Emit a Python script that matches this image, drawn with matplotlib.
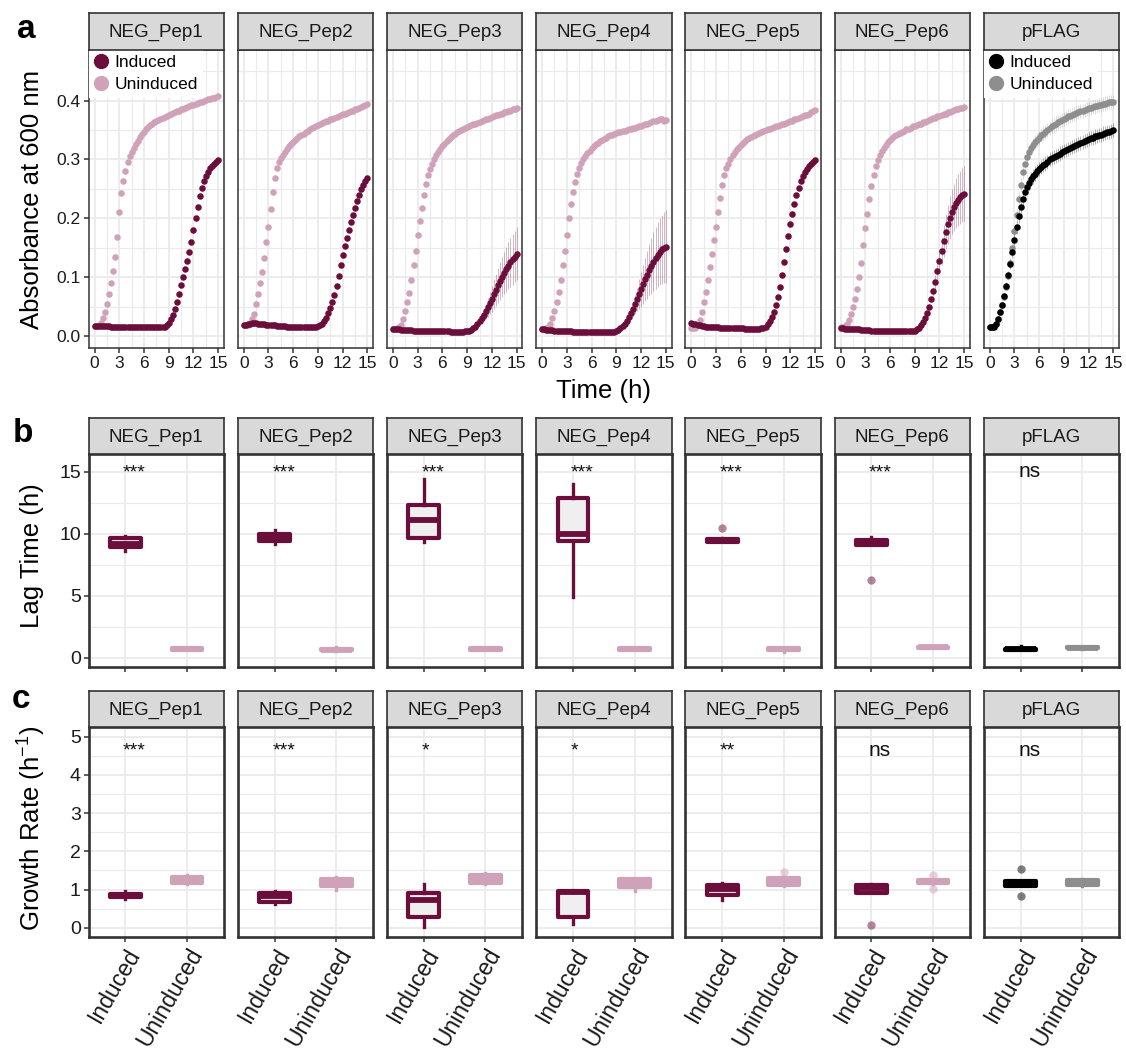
import numpy as np
import matplotlib
matplotlib.use('Agg')
import matplotlib.pyplot as plt
from matplotlib.lines import Line2D
from matplotlib.ticker import MultipleLocator, FormatStrFormatter

plt.rcParams['font.family'] = ['Liberation Sans', 'DejaVu Sans']
plt.rcParams['mathtext.default'] = 'regular'

W, H = 1126, 1054

strains = ['NEG_Pep1', 'NEG_Pep2', 'NEG_Pep3', 'NEG_Pep4', 'NEG_Pep5', 'NEG_Pep6', 'pFLAG']
groups = ['Induced', 'Uninduced']

# OD600 read-outs, one every 15 min from 0 to 15 h
time_h = np.arange(0, 15.01, 0.25)

pep1_uni = [0.017, 0.017, 0.018, 0.022, 0.030, 0.041, 0.055, 0.071, 0.090, 0.110, 0.135, 0.168, 0.210,
            0.243, 0.263, 0.280, 0.295, 0.305, 0.312, 0.319, 0.326, 0.332, 0.338, 0.343, 0.347,
            0.351, 0.355, 0.358, 0.361, 0.363, 0.365, 0.367, 0.369, 0.371, 0.372, 0.374, 0.376,
            0.377, 0.379, 0.380, 0.382, 0.383, 0.385, 0.386, 0.388, 0.389, 0.390, 0.392, 0.393,
            0.394, 0.396, 0.397, 0.398, 0.400, 0.401, 0.402, 0.403, 0.404, 0.405, 0.406, 0.408]
pep1_ind = [0.017, 0.017, 0.017, 0.017, 0.017, 0.017, 0.017, 0.017, 0.016, 0.016, 0.016, 0.016, 0.016,
            0.016, 0.016, 0.016, 0.016, 0.015, 0.015, 0.015, 0.015, 0.015, 0.015, 0.015, 0.015,
            0.015, 0.015, 0.015, 0.015, 0.015, 0.015, 0.015, 0.015, 0.015, 0.016, 0.018, 0.022,
            0.028, 0.036, 0.046, 0.058, 0.072, 0.087, 0.101, 0.114, 0.128, 0.143, 0.160, 0.180,
            0.200, 0.220, 0.238, 0.252, 0.263, 0.272, 0.279, 0.285, 0.289, 0.293, 0.296, 0.299]
pep2_uni = [0.018, 0.018, 0.019, 0.022, 0.028, 0.038, 0.055, 0.072, 0.090, 0.108, 0.133, 0.160, 0.185,
            0.215, 0.245, 0.268, 0.285, 0.296, 0.303, 0.308, 0.313, 0.318, 0.322, 0.326, 0.330,
            0.333, 0.336, 0.339, 0.342, 0.344, 0.347, 0.349, 0.351, 0.353, 0.355, 0.357, 0.358,
            0.360, 0.362, 0.363, 0.365, 0.366, 0.368, 0.369, 0.371, 0.372, 0.374, 0.375, 0.377,
            0.378, 0.379, 0.381, 0.382, 0.383, 0.385, 0.386, 0.388, 0.389, 0.391, 0.393, 0.394]
pep2_ind = [0.018, 0.019, 0.020, 0.021, 0.022, 0.022, 0.022, 0.021, 0.021, 0.020, 0.020, 0.019, 0.019,
            0.018, 0.018, 0.018, 0.017, 0.017, 0.017, 0.017, 0.017, 0.016, 0.016, 0.016, 0.016,
            0.016, 0.016, 0.016, 0.016, 0.016, 0.016, 0.016, 0.016, 0.016, 0.016, 0.016, 0.017,
            0.018, 0.021, 0.025, 0.031, 0.039, 0.048, 0.058, 0.070, 0.085, 0.102, 0.120, 0.137,
            0.153, 0.167, 0.180, 0.193, 0.206, 0.218, 0.229, 0.240, 0.249, 0.257, 0.263, 0.268]
pep3_uni = [0.012, 0.012, 0.013, 0.015, 0.019, 0.028, 0.042, 0.057, 0.073, 0.095, 0.120, 0.145, 0.172,
            0.196, 0.218, 0.240, 0.258, 0.273, 0.284, 0.293, 0.300, 0.307, 0.313, 0.318, 0.323,
            0.327, 0.331, 0.335, 0.338, 0.341, 0.343, 0.346, 0.348, 0.350, 0.352, 0.354, 0.355,
            0.357, 0.358, 0.360, 0.361, 0.362, 0.364, 0.365, 0.367, 0.368, 0.369, 0.371, 0.372,
            0.373, 0.375, 0.376, 0.377, 0.378, 0.380, 0.381, 0.382, 0.383, 0.385, 0.386, 0.387]
pep3_ind = [0.011, 0.011, 0.011, 0.011, 0.010, 0.010, 0.010, 0.010, 0.010, 0.010, 0.009, 0.009, 0.009,
            0.009, 0.009, 0.009, 0.009, 0.008, 0.008, 0.008, 0.008, 0.008, 0.008, 0.008, 0.008,
            0.008, 0.008, 0.008, 0.007, 0.007, 0.007, 0.007, 0.007, 0.007, 0.007, 0.008, 0.008,
            0.009, 0.010, 0.013, 0.016, 0.020, 0.025, 0.030, 0.036, 0.042, 0.049, 0.056, 0.063,
            0.071, 0.078, 0.086, 0.093, 0.100, 0.107, 0.113, 0.119, 0.125, 0.130, 0.135, 0.140]
pep3_ind_sd = [0, 0, 0, 0, 0, 0, 0, 0, 0, 0, 0, 0, 0,
               0, 0, 0, 0, 0, 0, 0, 0, 0, 0, 0, 0,
               0, 0, 0, 0, 0, 0, 0, 0, 0, 0, 0, 0,
               0.000, 0.000, 0.001, 0.002, 0.003, 0.005, 0.008, 0.010, 0.013, 0.016, 0.019, 0.022,
               0.025, 0.027, 0.030, 0.032, 0.034, 0.036, 0.038, 0.040, 0.041, 0.043, 0.044, 0.045]
pep4_uni = [0.012, 0.012, 0.013, 0.015, 0.020, 0.030, 0.043, 0.058, 0.075, 0.095, 0.120, 0.145, 0.172,
            0.200, 0.225, 0.245, 0.262, 0.275, 0.286, 0.294, 0.300, 0.306, 0.311, 0.315, 0.319,
            0.323, 0.326, 0.328, 0.331, 0.333, 0.335, 0.337, 0.339, 0.341, 0.342, 0.344, 0.345,
            0.346, 0.347, 0.348, 0.349, 0.350, 0.351, 0.352, 0.353, 0.354, 0.355, 0.356, 0.357,
            0.359, 0.360, 0.361, 0.362, 0.364, 0.365, 0.366, 0.367, 0.368, 0.369, 0.366, 0.367]
pep4_ind = [0.011, 0.011, 0.010, 0.010, 0.010, 0.010, 0.009, 0.009, 0.009, 0.009, 0.008, 0.008, 0.008,
            0.008, 0.008, 0.007, 0.007, 0.007, 0.007, 0.007, 0.007, 0.006, 0.006, 0.006, 0.006,
            0.006, 0.006, 0.006, 0.006, 0.006, 0.006, 0.006, 0.006, 0.006, 0.006, 0.007, 0.008,
            0.010, 0.013, 0.017, 0.021, 0.026, 0.032, 0.039, 0.046, 0.054, 0.062, 0.071, 0.079,
            0.088, 0.096, 0.104, 0.112, 0.119, 0.126, 0.132, 0.138, 0.143, 0.147, 0.150, 0.152]
pep4_ind_sd = [0, 0, 0, 0, 0, 0, 0, 0, 0, 0, 0, 0, 0,
               0, 0, 0, 0, 0, 0, 0, 0, 0, 0, 0, 0,
               0, 0, 0, 0, 0, 0, 0, 0, 0, 0, 0, 0,
               0.000, 0.000, 0.000, 0.000, 0.002, 0.004, 0.008, 0.012, 0.016, 0.020, 0.025, 0.029,
               0.033, 0.037, 0.041, 0.044, 0.047, 0.050, 0.053, 0.055, 0.057, 0.059, 0.060, 0.062]
pep5_uni = [0.013, 0.013, 0.014, 0.018, 0.027, 0.040, 0.057, 0.075, 0.095, 0.118, 0.140, 0.163, 0.185,
            0.210, 0.235, 0.257, 0.274, 0.285, 0.293, 0.300, 0.307, 0.312, 0.317, 0.321, 0.325,
            0.328, 0.331, 0.334, 0.336, 0.338, 0.340, 0.342, 0.344, 0.345, 0.347, 0.348, 0.350,
            0.351, 0.352, 0.354, 0.355, 0.356, 0.357, 0.359, 0.360, 0.361, 0.362, 0.364, 0.365,
            0.366, 0.368, 0.369, 0.370, 0.372, 0.373, 0.375, 0.376, 0.378, 0.380, 0.382, 0.384]
pep5_ind = [0.022, 0.021, 0.020, 0.019, 0.018, 0.017, 0.017, 0.016, 0.016, 0.016, 0.015, 0.015, 0.015,
            0.015, 0.014, 0.014, 0.014, 0.014, 0.014, 0.013, 0.013, 0.013, 0.013, 0.013, 0.013,
            0.013, 0.012, 0.012, 0.012, 0.012, 0.012, 0.012, 0.012, 0.012, 0.013, 0.014, 0.016,
            0.020, 0.025, 0.032, 0.041, 0.052, 0.066, 0.084, 0.104, 0.125, 0.148, 0.170, 0.190,
            0.208, 0.225, 0.240, 0.252, 0.263, 0.271, 0.278, 0.284, 0.289, 0.293, 0.296, 0.299]
pep6_uni = [0.016, 0.016, 0.017, 0.020, 0.027, 0.037, 0.049, 0.063, 0.080, 0.100, 0.124, 0.155, 0.183,
            0.208, 0.232, 0.255, 0.274, 0.288, 0.299, 0.307, 0.314, 0.320, 0.325, 0.329, 0.333,
            0.336, 0.339, 0.341, 0.343, 0.345, 0.347, 0.349, 0.351, 0.352, 0.354, 0.356, 0.357,
            0.359, 0.360, 0.361, 0.363, 0.364, 0.366, 0.367, 0.368, 0.370, 0.371, 0.373, 0.374,
            0.376, 0.377, 0.378, 0.380, 0.381, 0.382, 0.384, 0.385, 0.386, 0.387, 0.388, 0.389]
pep6_ind = [0.013, 0.013, 0.012, 0.012, 0.012, 0.012, 0.011, 0.011, 0.011, 0.011, 0.010, 0.010, 0.010,
            0.010, 0.010, 0.009, 0.009, 0.009, 0.009, 0.009, 0.009, 0.008, 0.008, 0.008, 0.008,
            0.008, 0.008, 0.008, 0.008, 0.008, 0.008, 0.008, 0.008, 0.008, 0.008, 0.008, 0.009,
            0.011, 0.014, 0.018, 0.023, 0.030, 0.039, 0.050, 0.062, 0.076, 0.092, 0.110, 0.128,
            0.145, 0.162, 0.177, 0.190, 0.201, 0.211, 0.219, 0.226, 0.231, 0.236, 0.239, 0.242]
pep6_ind_sd = [0, 0, 0, 0, 0, 0, 0, 0, 0, 0, 0, 0, 0,
               0, 0, 0, 0, 0, 0, 0, 0, 0, 0, 0, 0,
               0, 0, 0, 0, 0, 0, 0, 0, 0, 0, 0, 0,
               0, 0, 0, 0, 0, 0, 0.002, 0.004, 0.008, 0.012, 0.016, 0.020,
               0.024, 0.027, 0.030, 0.033, 0.036, 0.038, 0.040, 0.042, 0.044, 0.045, 0.046, 0.047]
pflag_ind = [0.016, 0.015, 0.016, 0.020, 0.028, 0.040, 0.053, 0.068, 0.085, 0.103, 0.122, 0.142, 0.163,
             0.185, 0.204, 0.220, 0.233, 0.244, 0.253, 0.260, 0.266, 0.271, 0.276, 0.280, 0.284,
             0.287, 0.290, 0.293, 0.296, 0.300, 0.303, 0.304, 0.306, 0.308, 0.310, 0.312, 0.314,
             0.316, 0.318, 0.319, 0.321, 0.323, 0.325, 0.326, 0.328, 0.330, 0.331, 0.333, 0.334,
             0.336, 0.337, 0.339, 0.340, 0.341, 0.342, 0.344, 0.345, 0.346, 0.347, 0.349, 0.350]
pflag_uni = [0.016, 0.016, 0.017, 0.021, 0.029, 0.040, 0.052, 0.066, 0.083, 0.102, 0.124, 0.150, 0.178,
             0.205, 0.232, 0.257, 0.278, 0.293, 0.304, 0.312, 0.319, 0.324, 0.329, 0.333, 0.337,
             0.341, 0.344, 0.347, 0.350, 0.353, 0.356, 0.358, 0.361, 0.363, 0.365, 0.367, 0.369,
             0.371, 0.373, 0.374, 0.376, 0.377, 0.379, 0.380, 0.382, 0.383, 0.384, 0.386, 0.387,
             0.388, 0.389, 0.390, 0.391, 0.392, 0.393, 0.394, 0.395, 0.396, 0.397, 0.397, 0.398]
pflag_sd = [0.001, 0.001, 0.001, 0.002, 0.002, 0.003, 0.004, 0.005, 0.006, 0.007, 0.008, 0.009, 0.010,
            0.011, 0.012, 0.012, 0.012, 0.012, 0.012, 0.012, 0.012, 0.012, 0.012, 0.012, 0.012,
            0.012, 0.012, 0.012, 0.012, 0.012, 0.012, 0.012, 0.012, 0.012, 0.012, 0.012, 0.012,
            0.012, 0.012, 0.012, 0.012, 0.012, 0.012, 0.012, 0.012, 0.012, 0.012, 0.012, 0.012,
            0.012, 0.012, 0.012, 0.012, 0.012, 0.012, 0.012, 0.012, 0.012, 0.012, 0.012, 0.012]

od_induced = [pep1_ind, pep2_ind, pep3_ind, pep4_ind, pep5_ind, pep6_ind, pflag_ind]
od_uninduced = [pep1_uni, pep2_uni, pep3_uni, pep4_uni, pep5_uni, pep6_uni, pflag_uni]
sd_induced = [None, None, pep3_ind_sd, pep4_ind_sd, None, pep6_ind_sd, pflag_sd]
sd_uninduced = [None, None, None, None, None, None, pflag_sd]

# box statistics: [whisker low, q1, median, q3, whisker high]
lag_ind = [[8.6, 8.95, 9.15, 9.65, 9.85], [9.2, 9.4, 9.7, 10.0, 10.3], [9.35, 9.65, 11.1, 12.35, 14.45],
           [4.9, 9.4, 9.95, 12.85, 14.05], [9.3, 9.35, 9.45, 9.6, 9.65], [9.05, 9.1, 9.3, 9.5, 9.7],
           [0.6, 0.62, 0.68, 0.72, 0.95]]
lag_uni = [[0.62, 0.65, 0.7, 0.75, 0.78], [0.58, 0.62, 0.66, 0.72, 0.9], [0.62, 0.65, 0.7, 0.75, 0.78],
           [0.62, 0.65, 0.7, 0.75, 0.78], [0.5, 0.65, 0.7, 0.78, 0.8], [0.78, 0.8, 0.85, 0.9, 0.92],
           [0.72, 0.75, 0.78, 0.83, 0.85]]
lag_ind_out = [[], [], [], [], [10.45], [6.3], []]
lag_uni_out = [[], [], [], [], [], [], []]
lag_sig = ['***', '***', '***', '***', '***', '***', 'ns']

rate_ind = [[0.76, 0.80, 0.84, 0.88, 0.95], [0.62, 0.68, 0.84, 0.92, 0.95], [0.03, 0.29, 0.73, 0.90, 1.14],
            [0.10, 0.29, 0.93, 0.97, 0.97], [0.73, 0.86, 1.01, 1.12, 1.16], [0.90, 0.92, 1.03, 1.13, 1.14],
            [1.09, 1.10, 1.16, 1.22, 1.23]]
rate_uni = [[1.15, 1.18, 1.25, 1.32, 1.38], [1.0, 1.10, 1.20, 1.27, 1.32], [1.14, 1.16, 1.28, 1.38, 1.44],
            [0.95, 1.06, 1.17, 1.27, 1.27], [1.08, 1.12, 1.22, 1.31, 1.33], [1.15, 1.16, 1.20, 1.24, 1.25],
            [1.10, 1.11, 1.17, 1.24, 1.28]]
rate_ind_out = [[], [], [], [], [], [0.08], [1.55, 0.84]]
rate_uni_out = [[], [], [], [], [1.47], [1.38, 1.01], []]
rate_sig = ['***', '***', '*', '*', '**', 'ns', 'ns']

col_ind = ['#6B0E3C'] * 6 + ['#000000']
col_uni = ['#D0A2BA'] * 6 + ['#8E8E8E']

DARK = '#333333'
GRID = '#EBEBEB'
PX0, STEP, PW = 88.5, 149.2, 135.5

fig = plt.figure(figsize=(W / 100, H / 100), dpi=100)


def px_axes(x, y, w, h):
    return fig.add_axes([x / W, 1 - (y + h) / H, w / W, h / H])


def strip(x, y, w, h, label):
    s = px_axes(x, y, w, h)
    s.set_facecolor('#D9D9D9')
    s.set_xticks([])
    s.set_yticks([])
    for sp in s.spines.values():
        sp.set_color(DARK)
        sp.set_linewidth(1.2)
    s.text(0.5, 0.47, label, ha='center', va='center', fontsize=13.5,
           color='#1A1A1A', transform=s.transAxes)


def style_panel(ax, lw):
    for sp in ax.spines.values():
        sp.set_color(DARK)
        sp.set_linewidth(lw)
    ax.grid(which='major', color=GRID, lw=1.3)
    ax.grid(which='minor', color=GRID, lw=0.8)
    ax.set_axisbelow(True)
    ax.tick_params(which='major', direction='out', length=3.5, width=1.1,
                   color=DARK, labelcolor='#1A1A1A', pad=2)
    ax.tick_params(which='minor', length=0)


def draw_boxes(ax, ind, uni, ind_out, uni_out, ci, cu):
    stats = []
    for st, out in ((ind, ind_out), (uni, uni_out)):
        lo, q1, med, q3, hi = st
        stats.append(dict(whislo=lo, q1=q1, med=med, q3=q3, whishi=hi, fliers=np.array(out)))
    art = ax.bxp(stats, positions=[1, 2], widths=0.5, patch_artist=True,
                 showcaps=False, showfliers=True)
    for k, c in enumerate((ci, cu)):
        art['boxes'][k].set(facecolor='#EFEFEF', edgecolor=c, linewidth=3.0, joinstyle='round')
        art['medians'][k].set(color=c, linewidth=4.2, solid_capstyle='butt')
        for wl in art['whiskers'][2 * k:2 * k + 2]:
            wl.set(color=c, linewidth=2.4)
        art['fliers'][k].set(marker='o', markerfacecolor=c, markeredgecolor='none',
                             alpha=0.5, markersize=6)


# ---- a: growth curves ----
for i, name in enumerate(strains):
    x0 = PX0 + i * STEP
    ax = px_axes(x0, 50, PW, 298)
    strip(x0, 13, PW, 37, name)
    style_panel(ax, 1.1)
    for y, sd, c in ((od_uninduced[i], sd_uninduced[i], col_uni[i]),
                     (od_induced[i], sd_induced[i], col_ind[i])):
        y = np.array(y)
        if sd is not None:
            sd = np.array(sd)
            ax.vlines(time_h, y - sd, y + sd, color=c, alpha=0.3, lw=0.7, zorder=2)
        ax.scatter(time_h, y, s=22, color=c, linewidths=0, zorder=3)
    ax.set_xlim(-0.73, 15.7)
    ax.set_ylim(-0.0205, 0.486)
    ax.xaxis.set_major_locator(MultipleLocator(3))
    ax.xaxis.set_minor_locator(MultipleLocator(1.5))
    ax.yaxis.set_major_locator(MultipleLocator(0.1))
    ax.yaxis.set_minor_locator(MultipleLocator(0.05))
    ax.yaxis.set_major_formatter(FormatStrFormatter('%.1f'))
    ax.tick_params(axis='x', labelsize=12.5)
    ax.tick_params(axis='y', labelsize=12.5)
    if i > 0:
        ax.tick_params(axis='y', which='both', length=0, labelleft=False)
    if i in (0, 6):
        handles = [Line2D([], [], ls='none', marker='o', ms=10, color=col_ind[i]),
                   Line2D([], [], ls='none', marker='o', ms=10, color=col_uni[i])]
        leg = ax.legend(handles, groups, loc='upper left', bbox_to_anchor=(0.0, 1.0),
                        fontsize=12.5, handlelength=0.8, handletextpad=0.4, labelspacing=0.4,
                        borderpad=0.3, borderaxespad=0.0, frameon=True, fancybox=False)
        leg.get_frame().set(facecolor='white', edgecolor='none', alpha=1)

# ---- b and c: box plots ----
rows = [
    (454, 213, 418, lag_ind, lag_uni, lag_ind_out, lag_uni_out, lag_sig,
     (-0.75, 16.43), 5, 2.5, 14.57, False),
    (727, 210, 691, rate_ind, rate_uni, rate_ind_out, rate_uni_out, rate_sig,
     (-0.243, 5.254), 1, 0.5, 4.5, True),
]
for top, h, stop, ind, uni, ind_out, uni_out, sig, ylim, maj, mnr, sig_y, labels in rows:
    for i, name in enumerate(strains):
        x0 = PX0 + i * STEP
        ax = px_axes(x0, top, PW, h)
        strip(x0, stop, PW, top - stop, name)
        style_panel(ax, 1.9)
        draw_boxes(ax, ind[i], uni[i], ind_out[i], uni_out[i], col_ind[i], col_uni[i])
        ax.set_xlim(0.4, 2.6)
        ax.set_ylim(*ylim)
        ax.set_xticks([1, 2])
        ax.yaxis.set_major_locator(MultipleLocator(maj))
        ax.yaxis.set_minor_locator(MultipleLocator(mnr))
        ax.tick_params(axis='y', labelsize=14)
        if labels:
            ax.set_xticklabels(groups, rotation=60, ha='right', va='top',
                               rotation_mode='anchor', fontsize=16.5)
        else:
            ax.set_xticklabels([])
        if i > 0:
            ax.tick_params(axis='y', which='both', length=0, labelleft=False)
        fs = 15 if sig[i] == 'ns' else 14
        ax.text(0.96, sig_y, sig[i], ha='left', va='baseline', fontsize=fs, color='#111111')

# ---- titles and panel letters ----
fig.text(604 / W, 1 - 391 / H, 'Time (h)', ha='center', va='center', fontsize=18.5)
fig.text(32 / W, 1 - 199 / H, 'Absorbance at 600 nm', rotation=90, ha='center', va='center', fontsize=18.5)
fig.text(32 / W, 1 - 556 / H, 'Lag Time (h)', rotation=90, ha='center', va='center', fontsize=18.5)
fig.text(32 / W, 1 - 828 / H, 'Growth Rate (h$^{-1}$)', rotation=90, ha='center', va='center', fontsize=18.5)
fig.text(17 / W, 1 - 38 / H, 'a', fontsize=24, fontweight='bold', va='baseline')
fig.text(13 / W, 1 - 442 / H, 'b', fontsize=24, fontweight='bold', va='baseline')
fig.text(12 / W, 1 - 708 / H, 'c', fontsize=24, fontweight='bold', va='baseline')

fig.savefig('out.png', dpi=100)
